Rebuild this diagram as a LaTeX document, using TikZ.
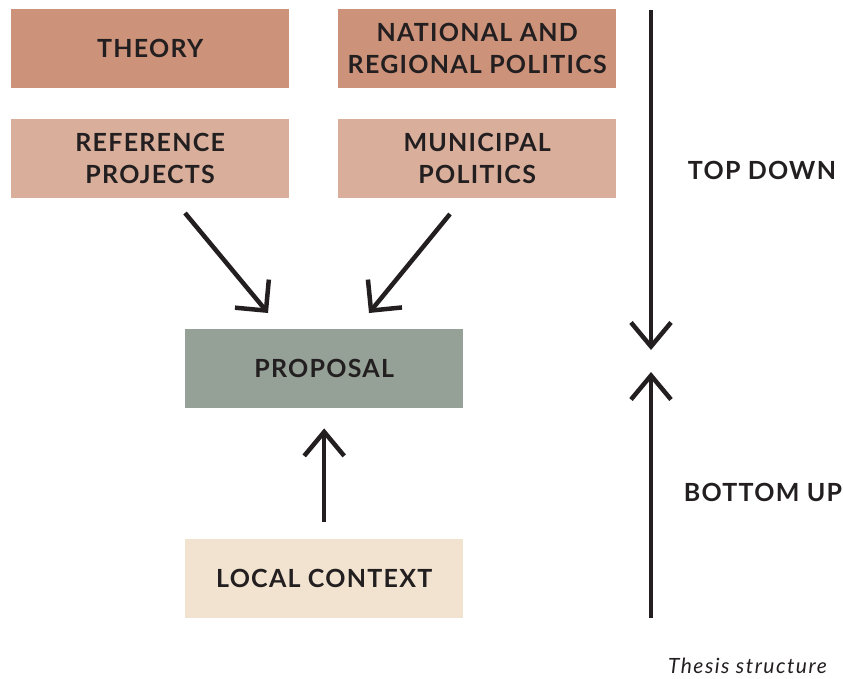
\documentclass[tikz,border=0pt]{standalone}
\usepackage{fontspec}
\setmainfont{Lato}
\newfontfamily\boxfont[LetterSpace=5]{Lato}
\newfontfamily\capfont[LetterSpace=7]{Lato}
\usetikzlibrary{arrows.meta}
\definecolor{dark}{HTML}{CD937A}
\definecolor{light}{HTML}{D9AF9C}
\definecolor{propc}{HTML}{95A097}
\definecolor{localc}{HTML}{F1E3CF}
\definecolor{ink}{HTML}{231F20}
\begin{document}
\begin{tikzpicture}[x=1pt,y=-1pt,
  box/.style={minimum width=278pt,minimum height=79pt,inner sep=0pt,align=center,
    text=ink,font=\boxfont\fontsize{25}{32}\selectfont\bfseries,anchor=north west},
  arr/.style={draw=ink,line width=4.5pt,-{Straight Barb[length=22pt,width=44pt]}},
  varr/.style={draw=ink,line width=4.5pt,-{Straight Barb[length=24pt,width=40pt]}},
  lbl/.style={text=ink,font=\boxfont\fontsize{25}{30}\selectfont\bfseries,inner sep=0pt}]
\useasboundingbox (0,0) rectangle (843,679);
\node[box,fill=dark] (theory) at (11,9) {THEORY};
\node[box,fill=dark] (national) at (338,9) {NATIONAL AND\\REGIONAL POLITICS};
\node[box,fill=light] (ref) at (11,119) {REFERENCE\\PROJECTS};
\node[box,fill=light] (muni) at (338,119) {MUNICIPAL\\POLITICS};
\node[box,fill=propc] (prop) at (185,329) {PROPOSAL};
\node[box,fill=localc] (local) at (185,539) {LOCAL CONTEXT};
\coordinate (a1s) at (185,213);
\coordinate (a1e) at (268,313);
\coordinate (a2s) at (450,214);
\coordinate (a2e) at (369,313);
\draw[arr] (a1s) -- (a1e);
\draw[arr] (a2s) -- (a2e);
\draw[varr,shorten <=17pt,shorten >=20pt] (local.north) -- (prop.south);
\coordinate (tdS) at (651,10);
\coordinate (tdE) at (651,350);
\coordinate (buS) at (651,618);
\coordinate (buE) at (651,372);
\draw[varr] (tdS) -- (tdE);
\draw[varr] (buS) -- (buE);
\node[lbl] (td) at (762,170) {TOP DOWN};
\node[lbl] (bu) at (763,492) {BOTTOM UP};
\node[text=ink,font=\capfont\fontsize{21}{24}\selectfont\itshape,anchor=east,inner sep=0pt] (cap) at (827,666) {Thesis structure};
\end{tikzpicture}
\end{document}
